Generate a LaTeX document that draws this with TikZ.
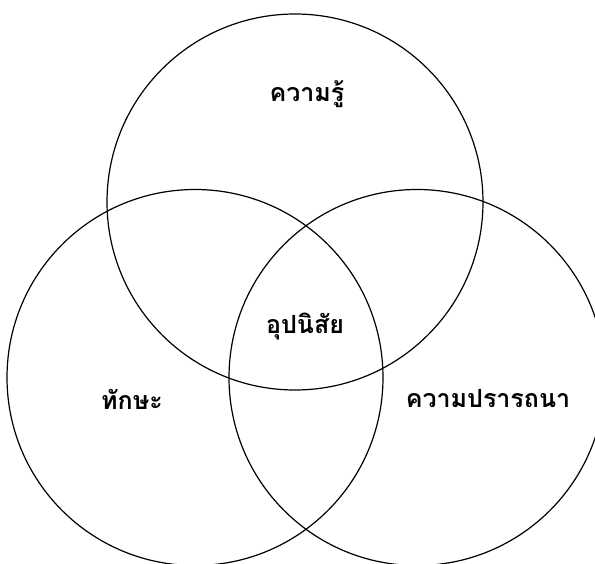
\documentclass[tikz,border=0pt]{standalone}
\usepackage{fontspec}
\newfontfamily\thaifont[Script=Thai]{Loma}
\usetikzlibrary{positioning}

\begin{document}
\begin{tikzpicture}[
  x=1pt, y=-1pt,
  ring/.style={circle, draw=black, line width=1.2pt, minimum size=376pt, inner sep=0pt},
  tag/.style={font=\thaifont\bfseries\fontsize{25}{28}\selectfont, inner sep=0pt},
]
  \useasboundingbox (0,0) rectangle (595,563);

  % Three overlapping circles
  \node[ring] (knowledge) at (295,202) {};
  \node[ring] (skill) at (195,377.5) {};
  \node[ring] (desire) at (417,377.5) {};

  % Labels
  \node[tag] (lknowledge) at (307,94) {ความรู้};
  \node[tag] (lhabit) at (305,327) {อุปนิสัย};
  \node[tag] (lskill) at (132,399) {ทักษะ};
  \node[tag] (ldesire) at (488,399) {ความปรารถนา};
\end{tikzpicture}
\end{document}
